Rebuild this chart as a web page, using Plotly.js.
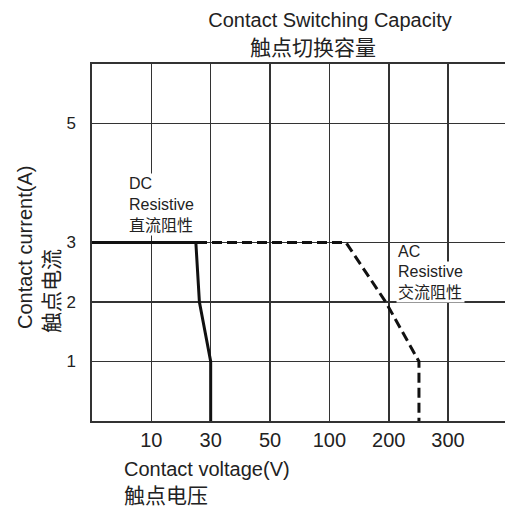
<!DOCTYPE html>
<html>
<head>
<meta charset="utf-8">
<script src="https://cdn.plot.ly/plotly-3.0.1.min.js"></script>
<style>html,body{margin:0;padding:0;background:#fff;}#chart{width:505px;height:513px;}</style>
</head>
<body>
<div id="chart"></div>
<script>
// Axis tick labels (evenly spaced positions on the voltage axis)
var voltTicks = [10, 30, 50, 100, 200, 300];
var currentTicks = [1, 2, 3, 5];

// DC resistive limit curve (V, A)
var dcVoltage = [0, 25, 26.2, 30, 30];
var dcCurrent = [3, 3, 2, 1, 0];

// AC resistive limit curve (V, A)
var acVoltage = [0, 128, 195, 251, 251];
var acCurrent = [3, 3, 2, 1, 0];

// piecewise scale: voltage -> evenly spaced axis position
var knotV = [0].concat(voltTicks);
function vpos(v) {
  for (var i = 1; i < knotV.length; i++) {
    if (v <= knotV[i]) return (i - 1) + (v - knotV[i - 1]) / (knotV[i] - knotV[i - 1]);
  }
  var n = knotV.length - 1;
  return n + (v - knotV[n]) / (knotV[n] - knotV[n - 1]);
}
var tickPos = voltTicks.map(vpos);

var W = 505, H = 513, ML = 92, MR = 0, MT = 64, MB = 92;
var PW = W - ML - MR, PH = H - MT - MB;
function px(x) { return (x - ML) / PW; }
function py(y) { return (H - MB - y) / PH; }

var lat = 'Liberation Sans, Arial, sans-serif';
var cjk = 'Noto Sans CJK SC, sans-serif';
var mix = 'Liberation Sans, Noto Sans CJK SC, sans-serif';
var txt = '#222';

var traces = [
  {x: acVoltage.map(vpos), y: acCurrent, mode: 'lines', type: 'scatter',
   line: {color: '#111', width: 3, dash: '10px,5px'}, hoverinfo: 'skip'},
  {x: dcVoltage.map(vpos), y: dcCurrent, mode: 'lines', type: 'scatter',
   line: {color: '#111', width: 3}, hoverinfo: 'skip'}
];

var layout = {
  width: W, height: H,
  margin: {l: ML, r: MR, t: MT, b: MB, pad: 0},
  paper_bgcolor: '#fff', plot_bgcolor: '#fff',
  showlegend: false,
  title: {text: 'Contact Switching Capacity', font: {family: lat, size: 20, color: txt},
          x: 330 / W, xanchor: 'center', xref: 'container', y: 1 - 19.5 / H, yref: 'container', yanchor: 'middle'},
  xaxis: {range: [0, PW / 59.34], tickvals: tickPos, ticktext: voltTicks.map(String),
          showgrid: true, gridcolor: '#333', gridwidth: 1.6, zeroline: false,
          showline: true, linecolor: '#333', linewidth: 1.6, mirror: true,
          ticks: '', 
          tickfont: {family: lat, size: 20, color: txt}, fixedrange: true},
  yaxis: {range: [0, 6], tickvals: currentTicks, ticktext: currentTicks.map(String),
          showgrid: true, gridcolor: '#333', gridwidth: 1.6, zeroline: false,
          showline: true, linecolor: '#333', linewidth: 1.6, mirror: false,
          ticks: 'outside', ticklen: 11, tickcolor: 'rgba(0,0,0,0)',
          tickfont: {family: lat, size: 17, color: txt}, fixedrange: true},
  annotations: [
    {text: '触点切换容量', xref: 'paper', yref: 'paper', x: px(313), y: py(46), xanchor: 'center', yanchor: 'middle',
     showarrow: false, font: {family: cjk, size: 21, color: txt}},
    {text: 'Contact voltage(V)', xref: 'paper', yref: 'paper', x: px(122), y: py(469), xanchor: 'left', yanchor: 'middle',
     showarrow: false, font: {family: lat, size: 20, color: txt}},
    {text: '触点电压', xref: 'paper', yref: 'paper', x: px(122), y: py(494), xanchor: 'left', yanchor: 'middle',
     showarrow: false, font: {family: cjk, size: 21, color: txt}},
    {text: 'Contact current(A)', xref: 'paper', yref: 'paper', x: px(25), y: py(248), xanchor: 'center', yanchor: 'middle',
     textangle: -90, showarrow: false, font: {family: lat, size: 20, color: txt}},
    {text: '触点电流', xref: 'paper', yref: 'paper', x: px(50), y: py(291), xanchor: 'center', yanchor: 'middle',
     textangle: -90, showarrow: false, font: {family: cjk, size: 21, color: txt}},
    {text: 'DC<br>Resistive<br>直流阻性', xref: 'paper', yref: 'paper', x: px(127), y: py(204), xanchor: 'left', yanchor: 'middle',
     align: 'left', showarrow: false, bgcolor: '#fff', borderpad: 1, font: {family: mix, size: 16, color: txt}},
    {text: 'AC', xref: 'paper', yref: 'paper', x: px(396), y: py(251), xanchor: 'left', yanchor: 'middle',
     align: 'left', showarrow: false, font: {family: lat, size: 16, color: txt}},
    {text: 'Resistive<br>交流阻性', xref: 'paper', yref: 'paper', x: px(396), y: py(282), xanchor: 'left', yanchor: 'middle',
     align: 'left', showarrow: false, bgcolor: '#fff', borderpad: 1, font: {family: mix, size: 16, color: txt}}
  ]
};

Plotly.newPlot('chart', traces, layout, {staticPlot: true, displayModeBar: false});
</script>
</body>
</html>
